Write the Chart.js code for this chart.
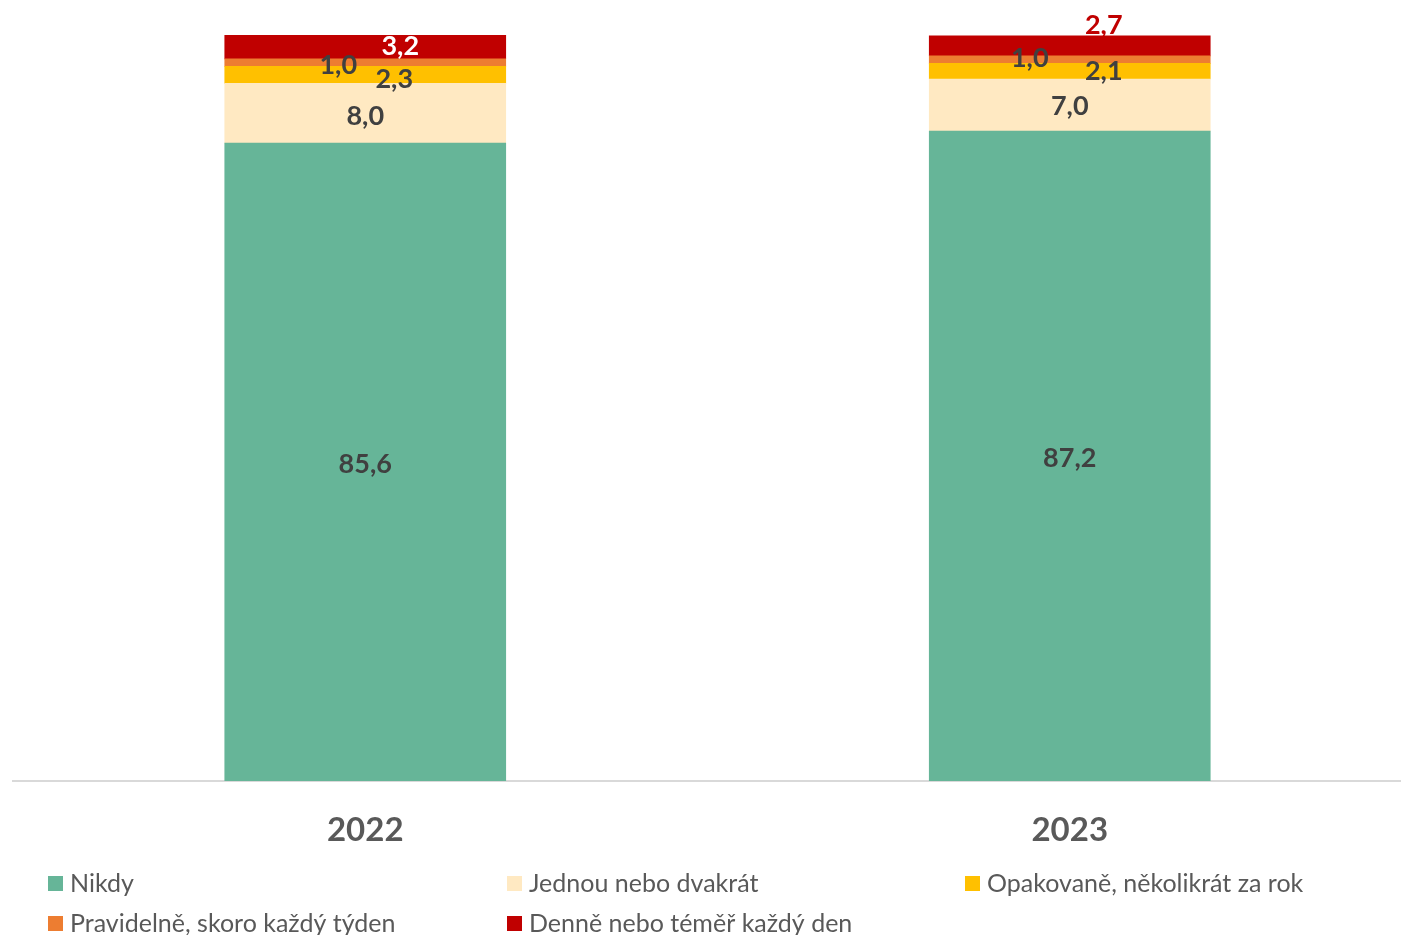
<!DOCTYPE html>
<html>
<head>
<meta charset="utf-8">
<script src="https://cdn.jsdelivr.net/npm/chart.js@4/dist/chart.umd.min.js"></script>
<style>
  html, body { margin: 0; padding: 0; background: #fff; overflow: hidden; }
  #wrap { width: 1401px; height: 935px; overflow: hidden; }
</style>
</head>
<body>
<div id="wrap"><canvas id="graf" width="1422" height="935"></canvas></div>
<script>
const roky = ['2022', '2023'];
const nikdy = [85.6, 87.2];
const jednou = [8.0, 7.0];
const opakovane = [2.3, 2.1];
const pravidelne = [1.0, 1.0];
const denne = [3.2, 2.7];

const nazvy = ['Nikdy', 'Jednou nebo dvakrát', 'Opakovaně, několikrát za rok',
  'Pravidelně, skoro každý týden', 'Denně nebo téměř každý den'];
const barvy = ['#66B598', '#FFE9C2', '#FFC000', '#ED7D31', '#C00000'];

// posun popisku [dx, dy] a barva pro kazdy dataset / rok
const posuny = [
  [[0, 2], [0, 2]],
  [[0, 3], [0, 1]],
  [[29, 4], [34, 0]],
  [[-27, 3], [-40, -1]],
  [[35, -1], [34, -21]]
];
const barvyPopisku = [
  ['#404040', '#404040'],
  ['#404040', '#404040'],
  ['#404040', '#404040'],
  ['#404040', '#404040'],
  ['#FFFFFF', '#C00000']
];

const FONT = 'Lato, "Open Sans", sans-serif';

const popisky = {
  id: 'popisky',
  afterDatasetsDraw(chart) {
    const ctx = chart.ctx;
    ctx.save();
    ctx.font = 'bold 27px ' + FONT;
    ctx.textAlign = 'center';
    ctx.textBaseline = 'middle';
    chart.data.datasets.forEach((ds, i) => {
      const meta = chart.getDatasetMeta(i);
      meta.data.forEach((bar, j) => {
        const p = posuny[i][j];
        const y = (bar.y + bar.base) / 2;
        ctx.fillStyle = barvyPopisku[i][j];
        ctx.fillText(ds.data[j].toFixed(1).replace('.', ','), bar.x + p[0], y + p[1]);
      });
    });
    ctx.restore();
  }
};

const legenda = {
  id: 'legenda',
  afterDraw(chart) {
    const ctx = chart.ctx;
    const sloupce = [48, 507, 965];
    const radky = [883, 923];
    ctx.save();
    ctx.font = '25px ' + FONT;
    ctx.textBaseline = 'middle';
    ctx.textAlign = 'left';
    nazvy.forEach((n, i) => {
      const x = sloupce[i % 3];
      const y = radky[Math.floor(i / 3)];
      ctx.fillStyle = barvy[i];
      ctx.fillRect(x, y - 7, 15, 15);
      ctx.fillStyle = '#595959';
      ctx.fillText(n, x + 22, y + 1);
    });
    ctx.restore();
  }
};

const datasety = [nikdy, jednou, opakovane, pravidelne, denne].map((d, i) => ({
  label: nazvy[i],
  data: d,
  backgroundColor: barvy[i],
  borderWidth: 0,
  barThickness: 281
}));

new Chart(document.getElementById('graf'), {
  type: 'bar',
  data: { labels: roky, datasets: datasety },
  options: {
    responsive: false,
    animation: false,
    devicePixelRatio: 1,
    layout: { padding: { top: 35, left: 13, right: 0, bottom: 0 } },
    plugins: {
      legend: { display: false },
      tooltip: { enabled: false }
    },
    scales: {
      x: {
        stacked: true,
        grid: { display: false, drawTicks: false },
        border: { display: true, color: '#D9D9D9', width: 2 },
        ticks: {
          color: '#595959',
          padding: 30,
          font: { family: FONT, size: 33, weight: 'bold' }
        },
        afterFit(scale) { scale.height = 154; }
      },
      y: {
        stacked: true,
        display: false,
        min: 0,
        max: 100.1
      }
    }
  },
  plugins: [popisky, legenda]
});
</script>
</body>
</html>
